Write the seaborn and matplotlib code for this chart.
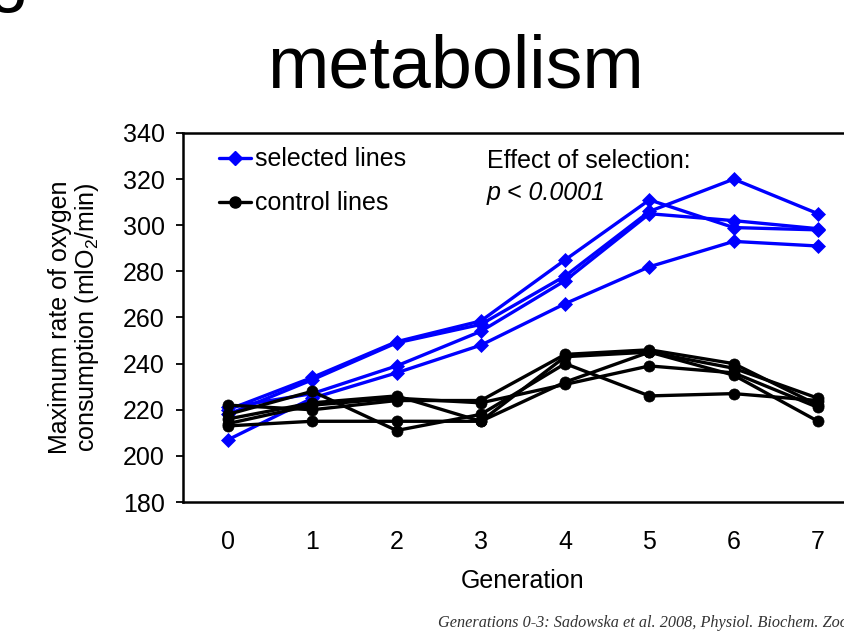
import numpy as np
import pandas as pd
import matplotlib
matplotlib.use("Agg")
import matplotlib.pyplot as plt
import seaborn as sns
from matplotlib.lines import Line2D

# ---- data ----
generations = [0, 1, 2, 3, 4, 5, 6, 7]
selected_1 = [220, 234, 249.5, 258.5, 285, 311, 299, 298]
selected_2 = [218, 233, 249, 257, 278, 306, 320, 305]
selected_3 = [221, 227, 239, 254, 276, 305, 302, 298.5]
selected_4 = [207, 225, 236, 248, 266, 282, 293, 291]
control_1 = [222, 220, 224, 224, 244, 246, 240, 222]
control_2 = [218, 228, 211, 218, 240, 226, 227, 224]
control_3 = [216, 223, 226, 215, 232, 245, 238, 225]
control_4 = [214, 222, 225, 223, 231, 239, 236, 221]
control_5 = [213, 215, 215, 215, 243, 245, 235, 215]
y_ticks = [180, 200, 220, 240, 260, 280, 300, 320, 340]

selected = [selected_1, selected_2, selected_3, selected_4]
control = [control_1, control_2, control_3, control_4, control_5]

rows = []
for i, s in enumerate(selected):
    for g, v in zip(generations, s):
        rows.append(dict(gen=g, val=v, group="selected lines", unit=f"s{i}"))
for i, s in enumerate(control):
    for g, v in zip(generations, s):
        rows.append(dict(gen=g, val=v, group="control lines", unit=f"c{i}"))
df = pd.DataFrame(rows)

sns.set_theme(style="white")
plt.rcParams["font.family"] = ["Liberation Sans", "DejaVu Sans"]
plt.rcParams["mathtext.fontset"] = "custom"
plt.rcParams["mathtext.rm"] = "Liberation Sans"
plt.rcParams["mathtext.it"] = "Liberation Sans:italic"
plt.rcParams["text.color"] = "black"
plt.rcParams["axes.labelcolor"] = "black"

FS = 18

fig = plt.figure(figsize=(8.44, 6.37), dpi=100)
ax = fig.add_axes([183 / 844, 135 / 637, 680 / 844, 369 / 637])

palette = {"selected lines": "#0000FF", "control lines": "#000000"}
markers = {"selected lines": "D", "control lines": "o"}
sns.lineplot(data=df, x="gen", y="val", hue="group", style="group", units="unit",
             estimator=None, palette=palette, markers=markers, dashes=False,
             linewidth=2.4, ax=ax, legend=False, sort=False)
for ln in ax.lines:
    c = ln.get_color()
    ln.set_markeredgecolor(c)
    ln.set_markerfacecolor(c)
    ln.set_markeredgewidth(0.5)
    ln.set_markersize(7 if ln.get_marker() == "D" else 8)

ax.set_xlim(-0.534, 7.534)
ax.set_ylim(180, 340)
ax.set_xticks(generations)
ax.set_yticks(y_ticks)
ax.tick_params(axis="y", direction="out", length=5, width=1.3, pad=8,
               labelsize=FS, left=True, colors="black")
ax.tick_params(axis="x", length=0, pad=20, labelsize=FS, colors="black")
for sp in ax.spines.values():
    sp.set_color("black")
    sp.set_linewidth(1.8)

ax.set_xlabel("Generation", fontsize=FS, labelpad=11)
ax.set_ylabel("Maximum rate of oxygen\nconsumption (mlO$_2$/min)", fontsize=FS,
              labelpad=16, linespacing=1.05)

handles = [
    Line2D([], [], color="#0000FF", marker="D", markersize=7, linewidth=2.4),
    Line2D([], [], color="#000000", marker="o", markersize=8, linewidth=2.4),
]
ax.legend(handles, ["selected lines", "control lines"], loc="upper left",
          bbox_to_anchor=(0.031, 1.0), frameon=False, fontsize=FS,
          handlelength=1.3, handletextpad=0.16, labelspacing=0.8,
          borderaxespad=0.18)

ax.text(3.07, 327.9, "Effect of selection:", fontsize=FS, ha="left", va="center")
ax.text(3.07, 314.2, "p < 0.0001", fontsize=FS, ha="left", va="center",
        style="italic")

fig.text(455 / 844, 1 - 88 / 637, "metabolism", fontsize=53, ha="center",
         va="baseline")
fig.text(-12 / 844, 1 + 2 / 637, "g", fontsize=53, ha="left", va="baseline")
fig.text(438 / 844, 10 / 637,
         "Generations 0-3: Sadowska et al. 2008, Physiol. Biochem. Zool.",
         fontsize=11.7, family=["Liberation Serif", "DejaVu Serif"],
         style="italic", color="#333333", ha="left", va="baseline")

fig.savefig("out.png", dpi=100)
